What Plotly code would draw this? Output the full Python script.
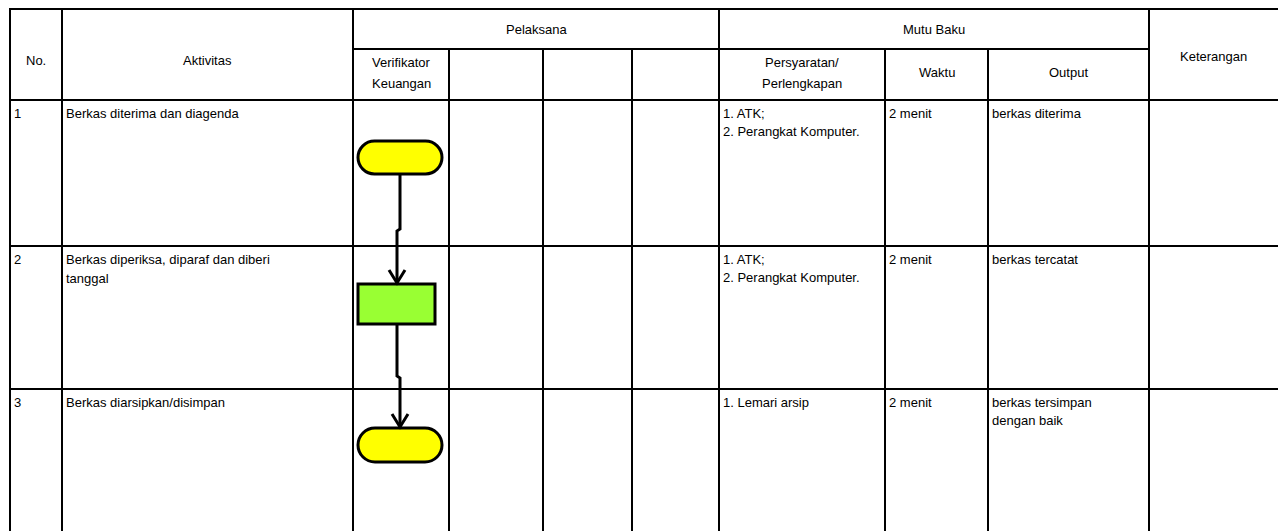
import plotly.graph_objects as go

# ---- table content ----
header_top = ["No.", "Aktivitas", "Pelaksana", "Mutu Baku", "Keterangan"]
pelaksana_cols = ["Verifikator<br>Keuangan", "", "", ""]
mutu_cols = ["Persyaratan/<br>Perlengkapan", "Waktu", "Output"]
nomor = ["1", "2", "3"]
aktivitas = ["Berkas diterima dan diagenda",
             "Berkas diperiksa, diparaf dan diberi<br>tanggal",
             "Berkas diarsipkan/disimpan"]
persyaratan = ["1. ATK;<br>2. Perangkat Komputer.",
               "1. ATK;<br>2. Perangkat Komputer.",
               "1. Lemari arsip"]
waktu = ["2 menit", "2 menit", "2 menit"]
output = ["berkas diterima", "berkas tercatat", "berkas tersimpan<br>dengan baik"]
step_type = ["terminator", "process", "terminator"]
step_color = ["#FFFF00", "#99FF33", "#FFFF00"]

# ---- layout geometry (screen pixels) ----
W, H = 1278, 531
col_x = [10, 62, 353, 449, 543, 632, 719, 885, 988, 1149, 1278]
y_top, y_sub, y_head = 9, 49, 100
row_y = [100, 246, 389, 540]
FONT = "Liberation Sans, Arial, sans-serif"
FS = 13

fig = go.Figure()
shapes = []
ann = []
LW = 2

def hline(x0, x1, y):
    shapes.append(dict(type="line", x0=x0, x1=x1, y0=y, y1=y,
                       line=dict(color="black", width=LW), layer="below"))

def vline(x, y0, y1):
    shapes.append(dict(type="line", x0=x, x1=x, y0=y0, y1=y1,
                       line=dict(color="black", width=LW), layer="below"))

hline(col_x[0] - 1, W + 20, y_top)
hline(col_x[2], col_x[9], y_sub)
hline(col_x[0] - 1, W + 20, y_head)
for ry in row_y[1:3]:
    hline(col_x[0] - 1, W + 20, ry)
for x in col_x[:-1]:
    if x in (col_x[0], col_x[1], col_x[2], col_x[6], col_x[9]):
        vline(x, y_top, H + 20)
    else:
        vline(x, y_sub, H + 20)

def text(x, y, s, xanchor="center", spacing=19):
    lines = s.split("<br>")
    n = len(lines)
    for i, ln in enumerate(lines):
        if xanchor == "center":
            yy = y + (i - (n - 1) / 2) * spacing
        else:
            yy = y + i * spacing
        ann.append(dict(x=x, y=yy, text=ln, showarrow=False, xanchor=xanchor,
                        yanchor="middle",
                        font=dict(family=FONT, size=FS, color="black")))

# header texts
text((col_x[0] + col_x[1]) / 2, 60, header_top[0])
text((col_x[1] + col_x[2]) / 2, 60, header_top[1])
text((col_x[2] + col_x[6]) / 2, 29, header_top[2])
text((col_x[6] + col_x[9]) / 2, 29, header_top[3])
text((col_x[9] + col_x[10]) / 2, 56, header_top[4])
for i, lab in enumerate(pelaksana_cols):
    if lab:
        text((col_x[2 + i] + col_x[3 + i]) / 2, 72.5, lab, spacing=21)
for i, lab in enumerate(mutu_cols):
    text((col_x[6 + i] + col_x[7 + i]) / 2, 72.5, lab, spacing=21)

# row texts (top-left aligned)
for r in range(3):
    ty = row_y[r] + 13.5
    text(col_x[0] + 2, ty, nomor[r], "left")
    text(col_x[1] + 2, ty, aktivitas[r], "left")
    text(col_x[6] + 2, ty, persyaratan[r], "left", spacing=18)
    text(col_x[7] + 2, ty, waktu[r], "left")
    text(col_x[8] + 2, ty, output[r], "left", spacing=18)

# ---- flowchart symbols ----
K = 0.5523
def stadium(x0, x1, y0, y1):
    r = (y1 - y0) / 2
    k = K * r
    return (f"M {x0+r},{y0} L {x1-r},{y0} "
            f"C {x1-r+k},{y0} {x1},{y0+r-k} {x1},{y0+r} "
            f"C {x1},{y0+r+k} {x1-r+k},{y1} {x1-r},{y1} "
            f"L {x0+r},{y1} "
            f"C {x0+r-k},{y1} {x0},{y0+r+k} {x0},{y0+r} "
            f"C {x0},{y0+r-k} {x0+r-k},{y0} {x0+r},{y0} Z")

boxes = [(358, 442, 141, 174), (358, 435, 284, 324), (358, 442, 428, 462)]
for (bx0, bx1, by0, by1), t, c in zip(boxes, step_type, step_color):
    if t == "terminator":
        shapes.append(dict(type="path", path=stadium(bx0, bx1, by0, by1),
                           fillcolor=c, line=dict(color="black", width=3)))
    else:
        shapes.append(dict(type="rect", x0=bx0, x1=bx1, y0=by0, y1=by1,
                           fillcolor=c, line=dict(color="black", width=3)))

connectors = [
    [(400, 174), (400, 229), (397, 231), (397, 283)],
    [(397, 324), (397, 376), (400, 378), (400, 427)],
]
for pts in connectors:
    p = "M " + " L ".join(f"{x},{y}" for x, y in pts)
    shapes.append(dict(type="path", path=p, line=dict(color="black", width=3)))
    tx, ty = pts[-1]
    shapes.append(dict(type="path",
                       path=f"M {tx-8},{ty-13} L {tx},{ty} L {tx+8},{ty-13}",
                       line=dict(color="black", width=3)))

fig.update_layout(
    width=W, height=H, margin=dict(l=0, r=0, t=0, b=0),
    paper_bgcolor="white", plot_bgcolor="white",
    xaxis=dict(range=[0, W], visible=False, fixedrange=True),
    yaxis=dict(range=[H, 0], visible=False, fixedrange=True),
    shapes=shapes, annotations=ann, showlegend=False,
)
fig.write_html("out.html",
               config={"displayModeBar": False, "staticPlot": True},
               post_script="document.body.style.margin='0';"
                           "document.body.style.overflow='hidden';")
